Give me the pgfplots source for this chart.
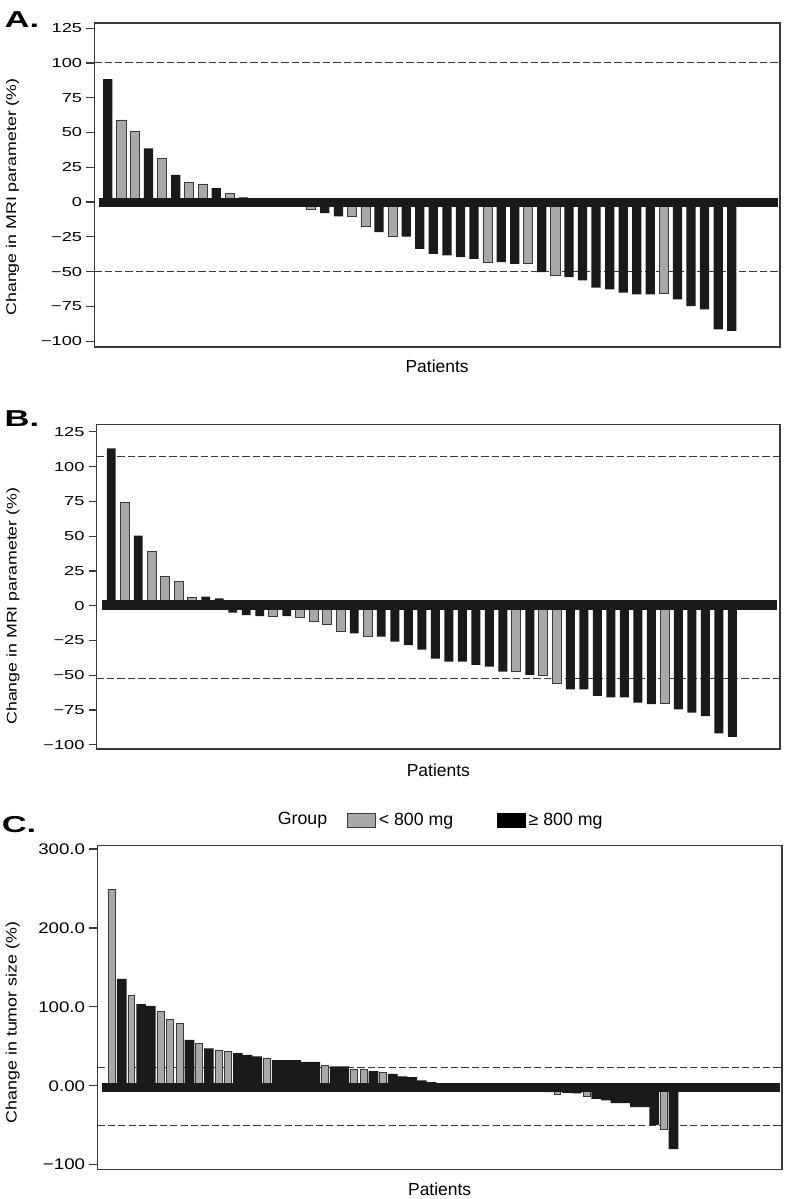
\documentclass[border=0pt]{standalone}
\usepackage{fontspec}
\setmainfont{Liberation Sans}
\newfontfamily\tickAB{Liberation Sans}[FakeStretch=1.4]
\newfontfamily\labAB{Liberation Sans}[FakeStretch=1.27]
\newfontfamily\tickC{Liberation Sans}[FakeStretch=1.22]
\newfontfamily\labC{Liberation Sans}[FakeStretch=1.19]
\newfontfamily\panelfont{Liberation Sans}[FakeStretch=1.5]
\usepackage{pgfplots}
\pgfplotsset{compat=1.18}
\definecolor{barblack}{HTML}{1A1A1A}
\definecolor{bargray}{HTML}{A8A8A8}
\definecolor{framec}{HTML}{3A3A3A}
\pgfplotsset{
  wf/.style={scale only axis, axis line style={framec, line width=0.9pt},
    xtick=\empty, ytick pos=left, tick align=outside, major tick length=6pt,
    tick style={framec, line width=0.9pt},
    yticklabel style={inner sep=0pt, xshift=-3pt}},
  gbar/.style={ybar, bar shift=0pt, fill=bargray, draw=framec, line width=0.6pt},
  kbar/.style={ybar, bar shift=0pt, fill=barblack, draw=none},
  dline/.style={framec, line width=0.8pt, dash pattern=on 5.5pt off 2.3pt, forget plot},
}
\begin{document}
\begin{tikzpicture}
\useasboundingbox (0,0) rectangle (589.5pt,899.25pt);
% ---------------- Panel A ----------------
\begin{axis}[wf, at={(70.7pt,639pt)}, anchor=south west, width=514.3pt, height=243pt,
  xmin=0, xmax=50.56, ymin=-104.2, ymax=128.7,
  ytick={-100,-75,-50,-25,0,25,50,75,100,125},
  yticklabels={−100,−75,−50,−25,0,25,50,75,100,125},
  yticklabel style={font=\tickAB\fontsize{9.75pt}{11pt}\selectfont},
  ylabel={Change in MRI parameter (\%)},
  ylabel style={font=\labAB\fontsize{10.5pt}{12pt}\selectfont, at={(axis description cs:-0.1193,0.463)}, anchor=center},
  xlabel={Patients},
  xlabel style={font=\fontsize{13.1pt}{15pt}\selectfont, at={(axis description cs:0.5,-0.0586)}, anchor=center},
]
\addplot[dline] coordinates {(0,100) (50.56,100)};
\addplot[dline] coordinates {(0,-50) (50.56,-50)};
\addplot[gbar, bar width=0.68] coordinates {(2,59)(3,50.8)(5,31.5)(7,14.2)(8,13)(10,5.9)(16,-5.6)(19,-10.4)(20,-17.6)(22,-24.8)(29,-43.2)(32,-44.4)(34,-52.8)(42,-65.9)};
\addplot[kbar, bar width=0.68] coordinates {(1,88.4)(4,38.6)(6,19.5)(9,10)(11,3.4)(12,1)(13,0)(14,-1)(15,-2)(17,-8)(18,-10.4)(21,-21.7)(23,-24.8)(24,-33.6)(25,-37.2)(26,-38.4)(27,-39.6)(28,-40.8)(30,-43.2)(31,-44.4)(33,-50.4)(35,-54)(36,-56.4)(37,-61.6)(38,-62.8)(39,-65.2)(40,-66.4)(41,-66.4)(43,-70)(44,-74.8)(45,-77.2)(46,-91.5)(47,-92.7)};
\addplot[barblack, line width=6.75pt, forget plot] coordinates {(0.34,-0.15) (50.41,-0.15)};
\end{axis}
% ---------------- Panel B ----------------
\begin{axis}[wf, at={(72.5pt,337.5pt)}, anchor=south west, width=512.5pt, height=243.5pt,
  xmin=-0.08, xmax=50.53, ymin=-103, ymax=130.4,
  ytick={-100,-75,-50,-25,0,25,50,75,100,125},
  yticklabels={−100,−75,−50,−25,0,25,50,75,100,125},
  yticklabel style={font=\tickAB\fontsize{9.75pt}{11pt}\selectfont},
  ylabel={Change in MRI parameter (\%)},
  ylabel style={font=\labAB\fontsize{10.5pt}{12pt}\selectfont, at={(axis description cs:-0.1225,0.44)}, anchor=center},
  xlabel={Patients},
  xlabel style={font=\fontsize{13.1pt}{15pt}\selectfont, at={(axis description cs:0.5,-0.0647)}, anchor=center},
]
\addplot[dline] coordinates {(-0.08,107) (50.53,107)};
\addplot[dline] coordinates {(-0.08,-52) (50.53,-52)};
\addplot[gbar, bar width=0.66] coordinates {(2,74.3)(4,39.3)(5,20.8)(6,17.3)(7,6)(13,-7.4)(15,-8.6)(16,-11)(17,-13.4)(18,-18.2)(20,-22.3)(31,-46.9)(33,-50.3)(34,-55.8)(42,-70.2)};
\addplot[kbar, bar width=0.66] coordinates {(1,113.2)(3,50.3)(8,6.5)(9,5.3)(10,-5)(11,-6.7)(12,-7.4)(14,-7.4)(19,-19.9)(21,-22.3)(22,-25.9)(23,-28.3)(24,-31.6)(25,-38)(26,-40.2)(27,-40.2)(28,-42.6)(29,-43.8)(30,-47.4)(32,-49.8)(35,-60.1)(36,-60.1)(37,-64.9)(38,-65.9)(39,-65.9)(40,-69.7)(41,-70.7)(43,-74.5)(44,-76.9)(45,-79.3)(46,-91.7)(47,-94.2)};
\addplot[barblack, line width=7.5pt, forget plot] coordinates {(0.29,0.5) (50.31,0.5)};
\end{axis}
% ---------------- Panel C ----------------
\begin{axis}[wf, at={(73pt,22.3pt)}, anchor=south west, width=513.5pt, height=242.9pt,
  xmin=-0.52, xmax=70.2, ymin=-105.8, ymax=304.6,
  ytick={-100,0,100,200,300},
  yticklabels={−100,0.00,100.0,200.0,300.0},
  yticklabel style={font=\tickC\fontsize{11.5pt}{13pt}\selectfont},
  ylabel={Change in tumor size (\%)},
  ylabel style={font=\labC\fontsize{11.25pt}{13pt}\selectfont, at={(axis description cs:-0.1236,0.453)}, anchor=center},
  xlabel={Patients},
  xlabel style={font=\fontsize{13.1pt}{15pt}\selectfont, at={(axis description cs:0.5,-0.0608)}, anchor=center},
  legend columns=-1,
  legend style={at={(axis description cs:0.3647,1.0787)}, anchor=west, draw=none, fill=none,
    inner sep=0pt, font=\fontsize{13.3pt}{15pt}\selectfont,
    /tikz/every even column/.append style={column sep=31pt}},
]
\addplot[dline] coordinates {(-0.52,23) (70.2,23)};
\addplot[dline] coordinates {(-0.52,-50) (70.2,-50)};
\addplot[gbar, bar width=0.72, legend image code/.code={\draw[fill=bargray, draw=framec, line width=0.6pt] (0pt,-5.25pt) rectangle (21pt,5.25pt);}] coordinates {(1,249.3)(3,114.1)(6,94.6)(7,83.7)(8,79.5)(10,54.1)(12,45.2)(13,43.1)(17,34.2)(23,25.7)(26,20.3)(27,20.3)(29,16.9)(47,-10.5)(50,-13.5)(58,-55.8)};
\addlegendentry{< 800 mg}
\addplot[kbar, bar width=1.0, legend image code/.code={\draw[fill=black, draw=black, line width=0.6pt] (0pt,-5.25pt) rectangle (21pt,5.25pt);}] coordinates {(2,135.6)(4,103.5)(5,101.4)(9,58.3)(11,47.3)(14,41.4)(15,39.3)(16,37.2)(18,32.5)(19,32.5)(20,32.5)(21,30.4)(22,30.4)(24,24.5)(25,24.5)(28,18.5)(30,15.2)(31,11.8)(32,11)(33,6.8)(34,4.7)(35,2)(36,1)(37,0)(38,0)(39,-1)(40,-2)(41,-3)(42,-4)(43,-5)(44,-6)(45,-7)(46,-8)(48,-9)(49,-9.5)(51,-16.5)(52,-18.6)(53,-22)(54,-22)(55,-27)(56,-27)(57,-49.4)(59,-80.3)};
\addlegendentry{≥ 800 mg}
\addplot[barblack, line width=6.75pt, forget plot] coordinates {(-0.064,-2.5) (70.0,-2.5)};
\end{axis}
\node[font=\fontsize{13.3pt}{15pt}\selectfont, anchor=center] at (226.9pt,284.25pt) {Group};
% panel letters
\node[font=\panelfont\bfseries\fontsize{17.25pt}{19pt}\selectfont] at (16.5pt,884.5pt) {A.};
\node[font=\panelfont\bfseries\fontsize{17.25pt}{19pt}\selectfont] at (16.5pt,585.5pt) {B.};
\node[font=\panelfont\bfseries\fontsize{17.25pt}{19pt}\selectfont] at (14.25pt,281pt) {C.};
\end{tikzpicture}
\end{document}
